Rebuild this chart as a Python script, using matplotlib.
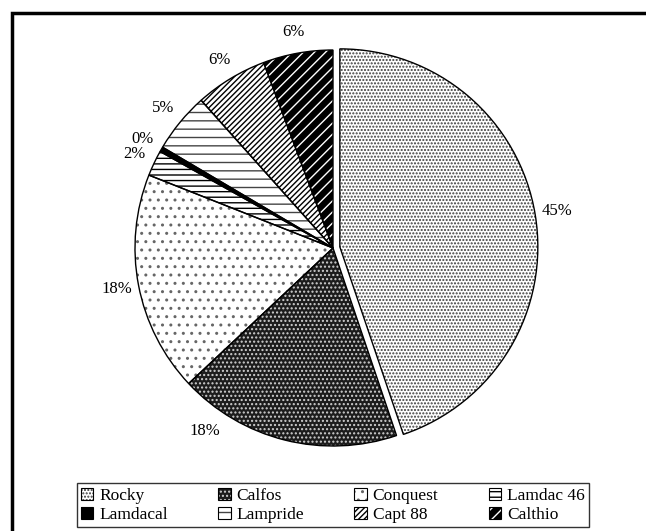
import matplotlib
matplotlib.use("Agg")
import matplotlib.pyplot as plt
from matplotlib.patches import Rectangle, Patch
import numpy as np

plt.rcParams["font.family"] = ["Liberation Serif", "DejaVu Serif"]
plt.rcParams["hatch.linewidth"] = 1.0

# data
products = ["Rocky", "Calfos", "Conquest", "Lamdac 46",
            "Lamdacal", "Lampride", "Capt 88", "Calthio"]
shares = [44.8, 18.2, 18.0, 2.1, 0.4, 4.9, 5.9, 5.7]
pct_labels = ["45%", "18%", "18%", "2%", "0%", "5%", "6%", "6%"]

# styling: face colour, hatch pattern, hatch colour
faces = ["white", "#1c1c1c", "white", "white", "black", "white", "white", "black"]
hatches = [".....", "....", "..", "---", "", "--", "//////", "///"]
hatch_cols = ["#3c3c3c", "#d0d0d0", "#666666", "black", "black", "#444444", "black", "white"]
explode = [0.035, 0, 0, 0, 0, 0, 0, 0]

fig = plt.figure(figsize=(6.46, 5.31), dpi=100)
W, H = 646, 531

# outer frame (cropped on right and bottom in the reference)
fig.patches.append(Rectangle((12 / W, -0.1), 1.2, 1 - 13 / H + 0.1,
                             transform=fig.transFigure, fill=False,
                             edgecolor="black", linewidth=2.5, zorder=0))

cx, cy, R = 333, 248, 198
half = 250
ax = fig.add_axes([(cx - half) / W, (H - cy - half) / H, 2 * half / W, 2 * half / H])

wedges, _ = ax.pie(shares, startangle=90, counterclock=False, explode=explode,
                   radius=1.0, wedgeprops=dict(linewidth=0))
for w, fc, h, hc in zip(wedges, faces, hatches, hatch_cols):
    w.set_facecolor(fc)
    w.set_hatch(h)
    w.set_edgecolor(hc)

# outlines on top
outl, texts = ax.pie(shares, startangle=90, counterclock=False, explode=explode,
                     radius=1.0, labels=pct_labels, labeldistance=1.11,
                     textprops=dict(fontsize=12),
                     wedgeprops=dict(fill=False, edgecolor="black", linewidth=1.0))
for t in texts:
    t.set_ha("center")
    t.set_va("center")
# Calfos label sits further round in the reference
ang = np.deg2rad(235)
texts[1].set_position((1.13 * np.cos(ang), 1.13 * np.sin(ang)))

lim = half / R
ax.set_xlim(-lim, lim)
ax.set_ylim(-lim, lim)

# legend: hatched swatch with a black outline, filled row by row
handles = [(Patch(facecolor=fc, hatch=h, edgecolor=hc, linewidth=0),
            Patch(fill=False, edgecolor="black", linewidth=0.8))
           for fc, h, hc in zip(faces, hatches, hatch_cols)]
order = [0, 4, 1, 5, 2, 6, 3, 7]
leg = fig.legend([handles[i] for i in order], [products[i] for i in order],
                 ncol=4, loc="lower left",
                 bbox_to_anchor=(77 / W, 1 - 527 / H, 512 / W, 49 / H),
                 mode="expand", fontsize=12.5, frameon=True, fancybox=False,
                 handlelength=0.7, handleheight=0.7, handletextpad=0.35,
                 borderpad=0.25, labelspacing=0.15, borderaxespad=0)
leg.get_frame().set_edgecolor("black")
leg.get_frame().set_linewidth(1.0)

fig.savefig("out.png", dpi=100)
